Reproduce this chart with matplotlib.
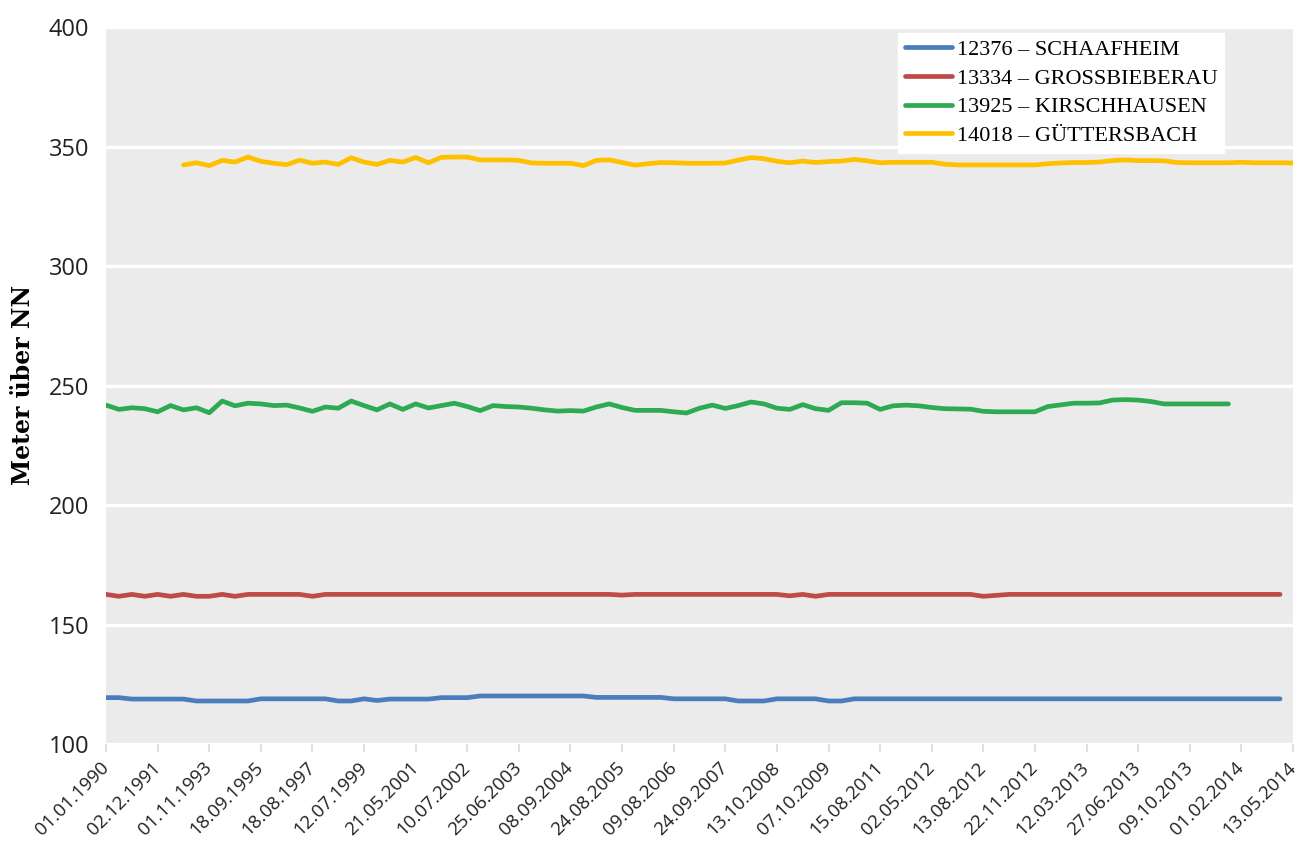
import numpy as np
import matplotlib.pyplot as plt

nan = np.nan

# tick labels on the category axis (one every 4 measurements)
date_labels = [
    "01.01.1990", "02.12.1991", "01.11.1993", "18.09.1995", "18.08.1997",
    "12.07.1999", "21.05.2001", "10.07.2002", "25.06.2003", "08.09.2004",
    "24.08.2005", "09.08.2006", "24.09.2007", "13.10.2008", "07.10.2009",
    "15.08.2011", "02.05.2012", "13.08.2012", "22.11.2012", "12.03.2013",
    "27.06.2013", "09.10.2013", "01.02.2014", "13.05.2014",
]
step = 4

# groundwater level, metres above NN
schaafheim = [
    119.4, 119.4, 118.8, 118.8, 118.8, 118.8, 118.8, 118.0, 118.0, 118.0,
    118.0, 118.0, 118.9, 118.9, 118.9, 118.9, 118.9, 118.9, 118.0, 118.0,
    118.9, 118.2, 118.8, 118.8, 118.8, 118.8, 119.4, 119.4, 119.4, 120.1,
    120.1, 120.1, 120.1, 120.1, 120.1, 120.1, 120.1, 120.1, 119.5, 119.5,
    119.5, 119.5, 119.5, 119.5, 118.9, 118.9, 118.9, 118.9, 118.9, 118.0,
    118.0, 118.0, 118.9, 118.9, 118.9, 118.9, 118.0, 118.0, 118.9, 118.9,
    118.9, 118.9, 118.9, 118.9, 118.9, 118.9, 118.9, 118.9, 118.9, 118.9,
    118.9, 118.9, 118.9, 118.9, 118.9, 118.9, 118.9, 118.9, 118.9, 118.9,
    118.9, 118.9, 118.9, 118.9, 118.9, 118.9, 118.9, 118.9, 118.9, 118.9,
    118.9, 118.9, nan,
]
grossbieberau = [
    162.6, 161.8, 162.6, 161.8, 162.6, 161.8, 162.6, 161.8, 161.8, 162.6,
    161.8, 162.6, 162.6, 162.6, 162.6, 162.6, 161.8, 162.6, 162.6, 162.6,
    162.6, 162.6, 162.6, 162.6, 162.6, 162.6, 162.6, 162.6, 162.6, 162.6,
    162.6, 162.6, 162.6, 162.6, 162.6, 162.6, 162.6, 162.6, 162.6, 162.6,
    162.3, 162.6, 162.6, 162.6, 162.6, 162.6, 162.6, 162.6, 162.6, 162.6,
    162.6, 162.6, 162.6, 162.0, 162.6, 161.8, 162.6, 162.6, 162.6, 162.6,
    162.6, 162.6, 162.6, 162.6, 162.6, 162.6, 162.6, 162.6, 161.8, 162.2,
    162.6, 162.6, 162.6, 162.6, 162.6, 162.6, 162.6, 162.6, 162.6, 162.6,
    162.6, 162.6, 162.6, 162.6, 162.6, 162.6, 162.6, 162.6, 162.6, 162.6,
    162.6, 162.6, nan,
]
kirschhausen = [
    241.8, 240.0, 240.7, 240.3, 239.0, 241.6, 239.8, 240.7, 238.6, 243.5,
    241.5, 242.6, 242.3, 241.6, 241.8, 240.6, 239.2, 241.0, 240.5, 243.5,
    241.6, 239.8, 242.3, 240.0, 242.3, 240.6, 241.6, 242.6, 241.2, 239.5,
    241.6, 241.2, 241.0, 240.5, 239.8, 239.3, 239.5, 239.3, 241.0, 242.3,
    240.8, 239.6, 239.6, 239.6, 239.0, 238.5, 240.5, 241.8, 240.4, 241.6,
    243.1, 242.3, 240.5, 240.0, 242.0, 240.3, 239.6, 242.8, 242.8, 242.6,
    240.0, 241.5, 241.8, 241.5, 240.8, 240.3, 240.2, 240.1, 239.2, 239.0,
    239.0, 239.0, 239.0, 241.2, 241.9, 242.6, 242.6, 242.7, 243.9, 244.1,
    243.9, 243.3, 242.3, 242.3, 242.3, 242.3, 242.3, 242.3, nan, nan,
    nan, nan, nan,
]
guettersbach = [
    nan, nan, nan, nan, nan, nan, 342.3, 343.2, 342.0, 344.2,
    343.5, 345.6, 343.8, 343.0, 342.4, 344.3, 343.0, 343.5, 342.5, 345.3,
    343.5, 342.5, 344.2, 343.5, 345.4, 343.2, 345.5, 345.6, 345.6, 344.4,
    344.4, 344.4, 344.2, 343.1, 343.0, 343.0, 343.0, 342.0, 344.2, 344.4,
    343.3, 342.2, 342.8, 343.3, 343.2, 343.0, 343.0, 343.0, 343.1, 344.3,
    345.4, 344.9, 343.8, 343.2, 343.9, 343.3, 343.7, 343.9, 344.6, 344.0,
    343.2, 343.4, 343.4, 343.4, 343.4, 342.6, 342.3, 342.3, 342.3, 342.3,
    342.3, 342.3, 342.3, 342.8, 343.1, 343.3, 343.3, 343.5, 344.1, 344.4,
    344.1, 344.1, 344.0, 343.3, 343.2, 343.2, 343.2, 343.2, 343.4, 343.2,
    343.2, 343.2, 343.1,
]

series = [
    ("12376 \u2013 SCHAAFHEIM", schaafheim, "#4A7EBB"),
    ("13334 \u2013 GROSSBIEBERAU", grossbieberau, "#BE4B48"),
    ("13925 \u2013 KIRSCHHAUSEN", kirschhausen, "#2EAA52"),
    ("14018 \u2013 G\u00dcTTERSBACH", guettersbach, "#FFC000"),
]

fig = plt.figure(figsize=(12.98, 8.47), dpi=100)
ax = fig.add_axes([0.0817, 0.1216, 0.9144, 0.8465])
ax.set_facecolor("#EBEBEB")

for name, values, color in series:
    x = np.arange(len(values))
    ax.plot(x, values, color=color, lw=3.4, solid_capstyle="round",
            solid_joinstyle="round", label=name)

n_points = len(schaafheim)
ax.set_xlim(0, n_points - 1)
ax.set_ylim(100, 400)
ax.set_yticks(np.arange(100, 401, 50))
ax.set_xticks(np.arange(0, n_points, step))
ax.set_xticklabels(date_labels, rotation=45, ha="right", va="center",
                   rotation_mode="anchor", fontsize=13.5, family="Open Sans",
                   color="#222222")
for lbl in ax.get_yticklabels():
    lbl.set_fontsize(17)
    lbl.set_family("Open Sans")
    lbl.set_color("#222222")

ax.grid(axis="y", color="white", lw=2.4)
ax.set_axisbelow(True)
for spine in ax.spines.values():
    spine.set_visible(False)
ax.tick_params(axis="y", length=0, pad=12)
ax.tick_params(axis="x", length=6, width=1.5, color="#E0E0E0", pad=9)

# axis title placed in figure coordinates so it stays inside the canvas
fig.text(0.018, 0.545, "Meter \u00fcber NN", rotation=90, ha="center",
         va="center", fontsize=17, fontweight="bold", family="DejaVu Serif")

leg = ax.legend(loc="upper left", bbox_to_anchor=(0.6918, 0.961),
                bbox_transform=fig.transFigure, frameon=True, fancybox=False,
                framealpha=1, edgecolor="white", facecolor="white",
                prop={"family": "Liberation Serif", "size": 16},
                handlelength=2.15, handletextpad=0.2, labelspacing=0.36,
                borderpad=0.3, borderaxespad=0)

fig.savefig("out.png", dpi=100, facecolor="white")
